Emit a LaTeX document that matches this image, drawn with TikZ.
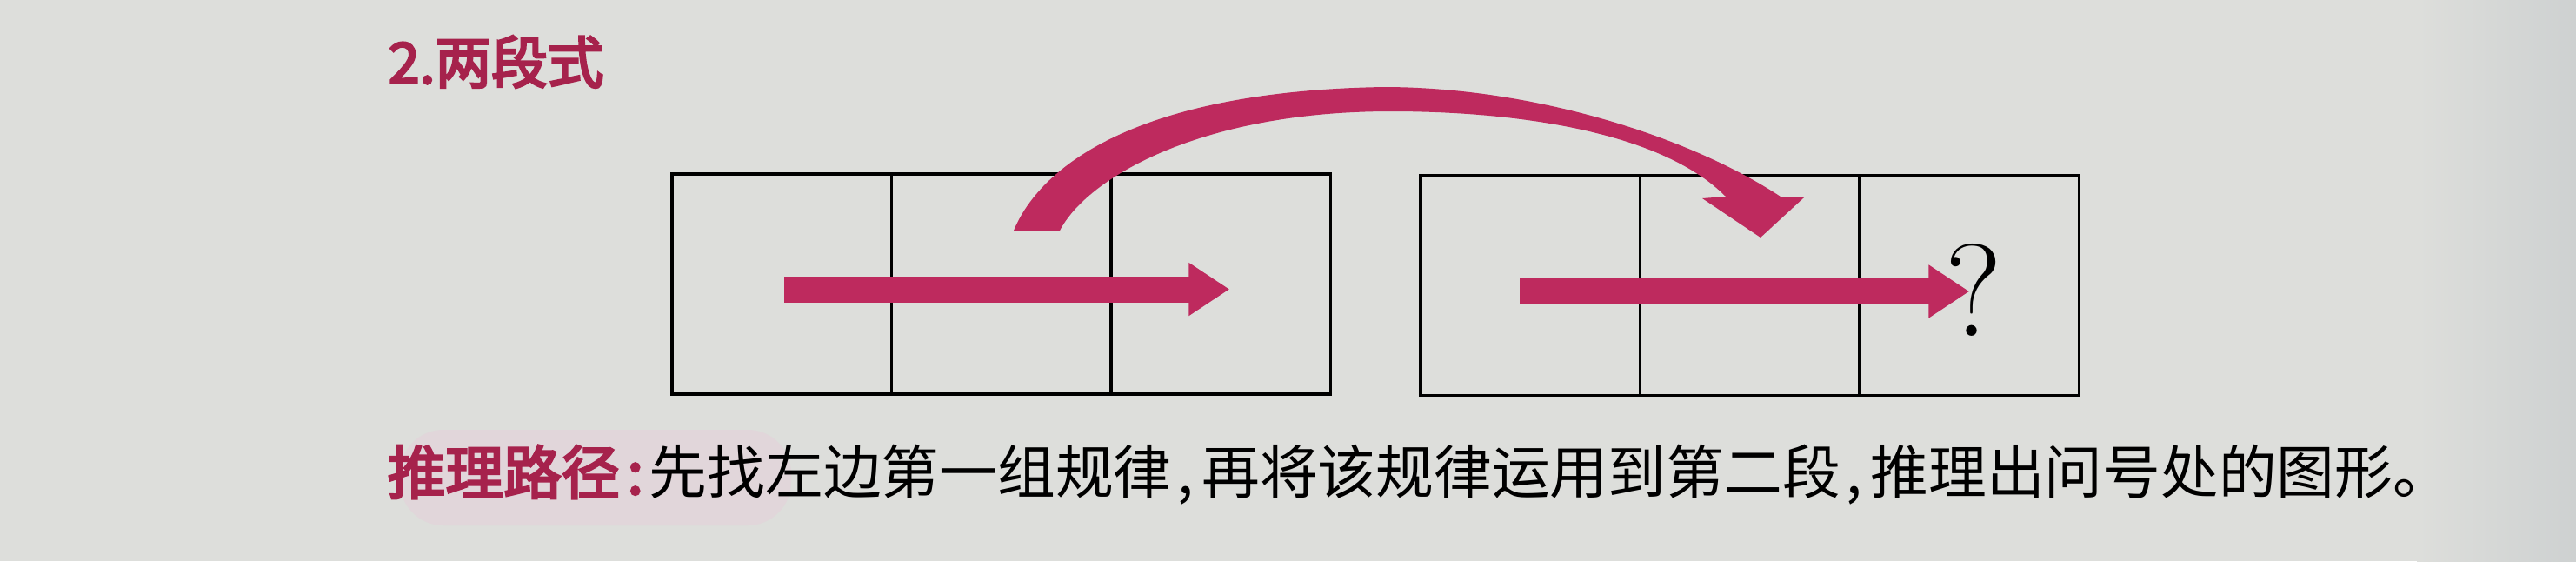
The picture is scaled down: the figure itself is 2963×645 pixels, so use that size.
\documentclass[tikz,border=0pt]{standalone}
\usepackage{fontspec}
\newfontfamily\cjk{Noto Sans CJK SC}
\newfontfamily\cjkmid{Noto Sans CJK SC}[FakeBold=4]
\usepackage{tikz}
\usetikzlibrary{arrows.meta}
\usepackage{xcolor}
\definecolor{paper}{RGB}{221,222,219}
\definecolor{edge}{RGB}{206,209,209}
\definecolor{rose}{RGB}{190,42,94}
\definecolor{wine}{RGB}{166,34,76}
\definecolor{blush}{RGB}{225,214,218}

\begin{document}
\begin{tikzpicture}[
  x=0.1mm, y=-0.1mm,
  % --- styles ---
  cell/.style={draw=black, line width=1.1pt, minimum width=25.25mm,
    minimum height=25.3mm, inner sep=0pt, outer sep=0pt},
  flow/.style={draw=rose, line width=3mm, -{Triangle[length=4.7mm, width=5.8mm]}},
  headline/.style={font=\cjkmid\fontsize{18.4}{20}\selectfont, text=wine,
    inner sep=0pt, anchor=west},
  body/.style={font=\cjk\fontsize{19}{21}\selectfont, inner sep=0pt, anchor=west},
  qmark/.style={font=\fontsize{43}{43}\selectfont, inner sep=0pt}
]

% ======================================================
% Page (photo background)
% ======================================================
\fill[paper] (0,0) rectangle (2963,645);
\shade[left color=paper, right color=edge] (2780,0) rectangle (2963,645);
\useasboundingbox (0,0) rectangle (2963,645);

% ======================================================
% Heading
% ======================================================
\node[headline] (head) at (446,71) {2.两段式};

% ======================================================
% First segment (left strip) and second segment (right strip)
% ======================================================
\foreach \i in {1,2,3} {
  \node[cell] (L\i) at ({773+252.5*\i-126.25},326.5) {};
  \node[cell] (R\i) at ({1634+252.5*\i-126.25},328) {};
}

\node[qmark] (ask) at ([shift={(5,5)}]R3.center) {?};

% ======================================================
% Rule arrows
% ======================================================
\draw[flow] ([shift={(3,6)}]L1.center) -- ([shift={(10,6)}]L3.center);
\draw[flow] ([shift={(-12,7)}]R1.center) -- ([shift={(0,7)}]R3.center);

% carry the rule over (hand-shaped band)
\fill[rose] (1166,265)
  .. controls (1195,195) and (1300,105) .. (1591,100)
  .. controls (1760,100) and (1940,155) .. (2048,226)
  -- (2075,227) -- (2025,273) -- (1958,228) -- (1985,226)
  .. controls (1910,150) and (1740,128) .. (1600,128)
  .. controls (1380,128) and (1250,205) .. (1219,265) -- cycle;

% ======================================================
% Note
% ======================================================
\fill[blush, rounded corners=5mm] (460,494) rectangle (910,604);
\node[body] (note) at (445,546)
  {{\cjkmid\color{wine}推理路径\hspace{0.13em}:\hspace{0.1em}}先找左边第一组规律\hspace{0.1em},\hspace{0.14em}再将该规律运用到第二段\hspace{0.1em},\hspace{0.14em}推理出问号处的图形。};

\end{tikzpicture}
\end{document}
